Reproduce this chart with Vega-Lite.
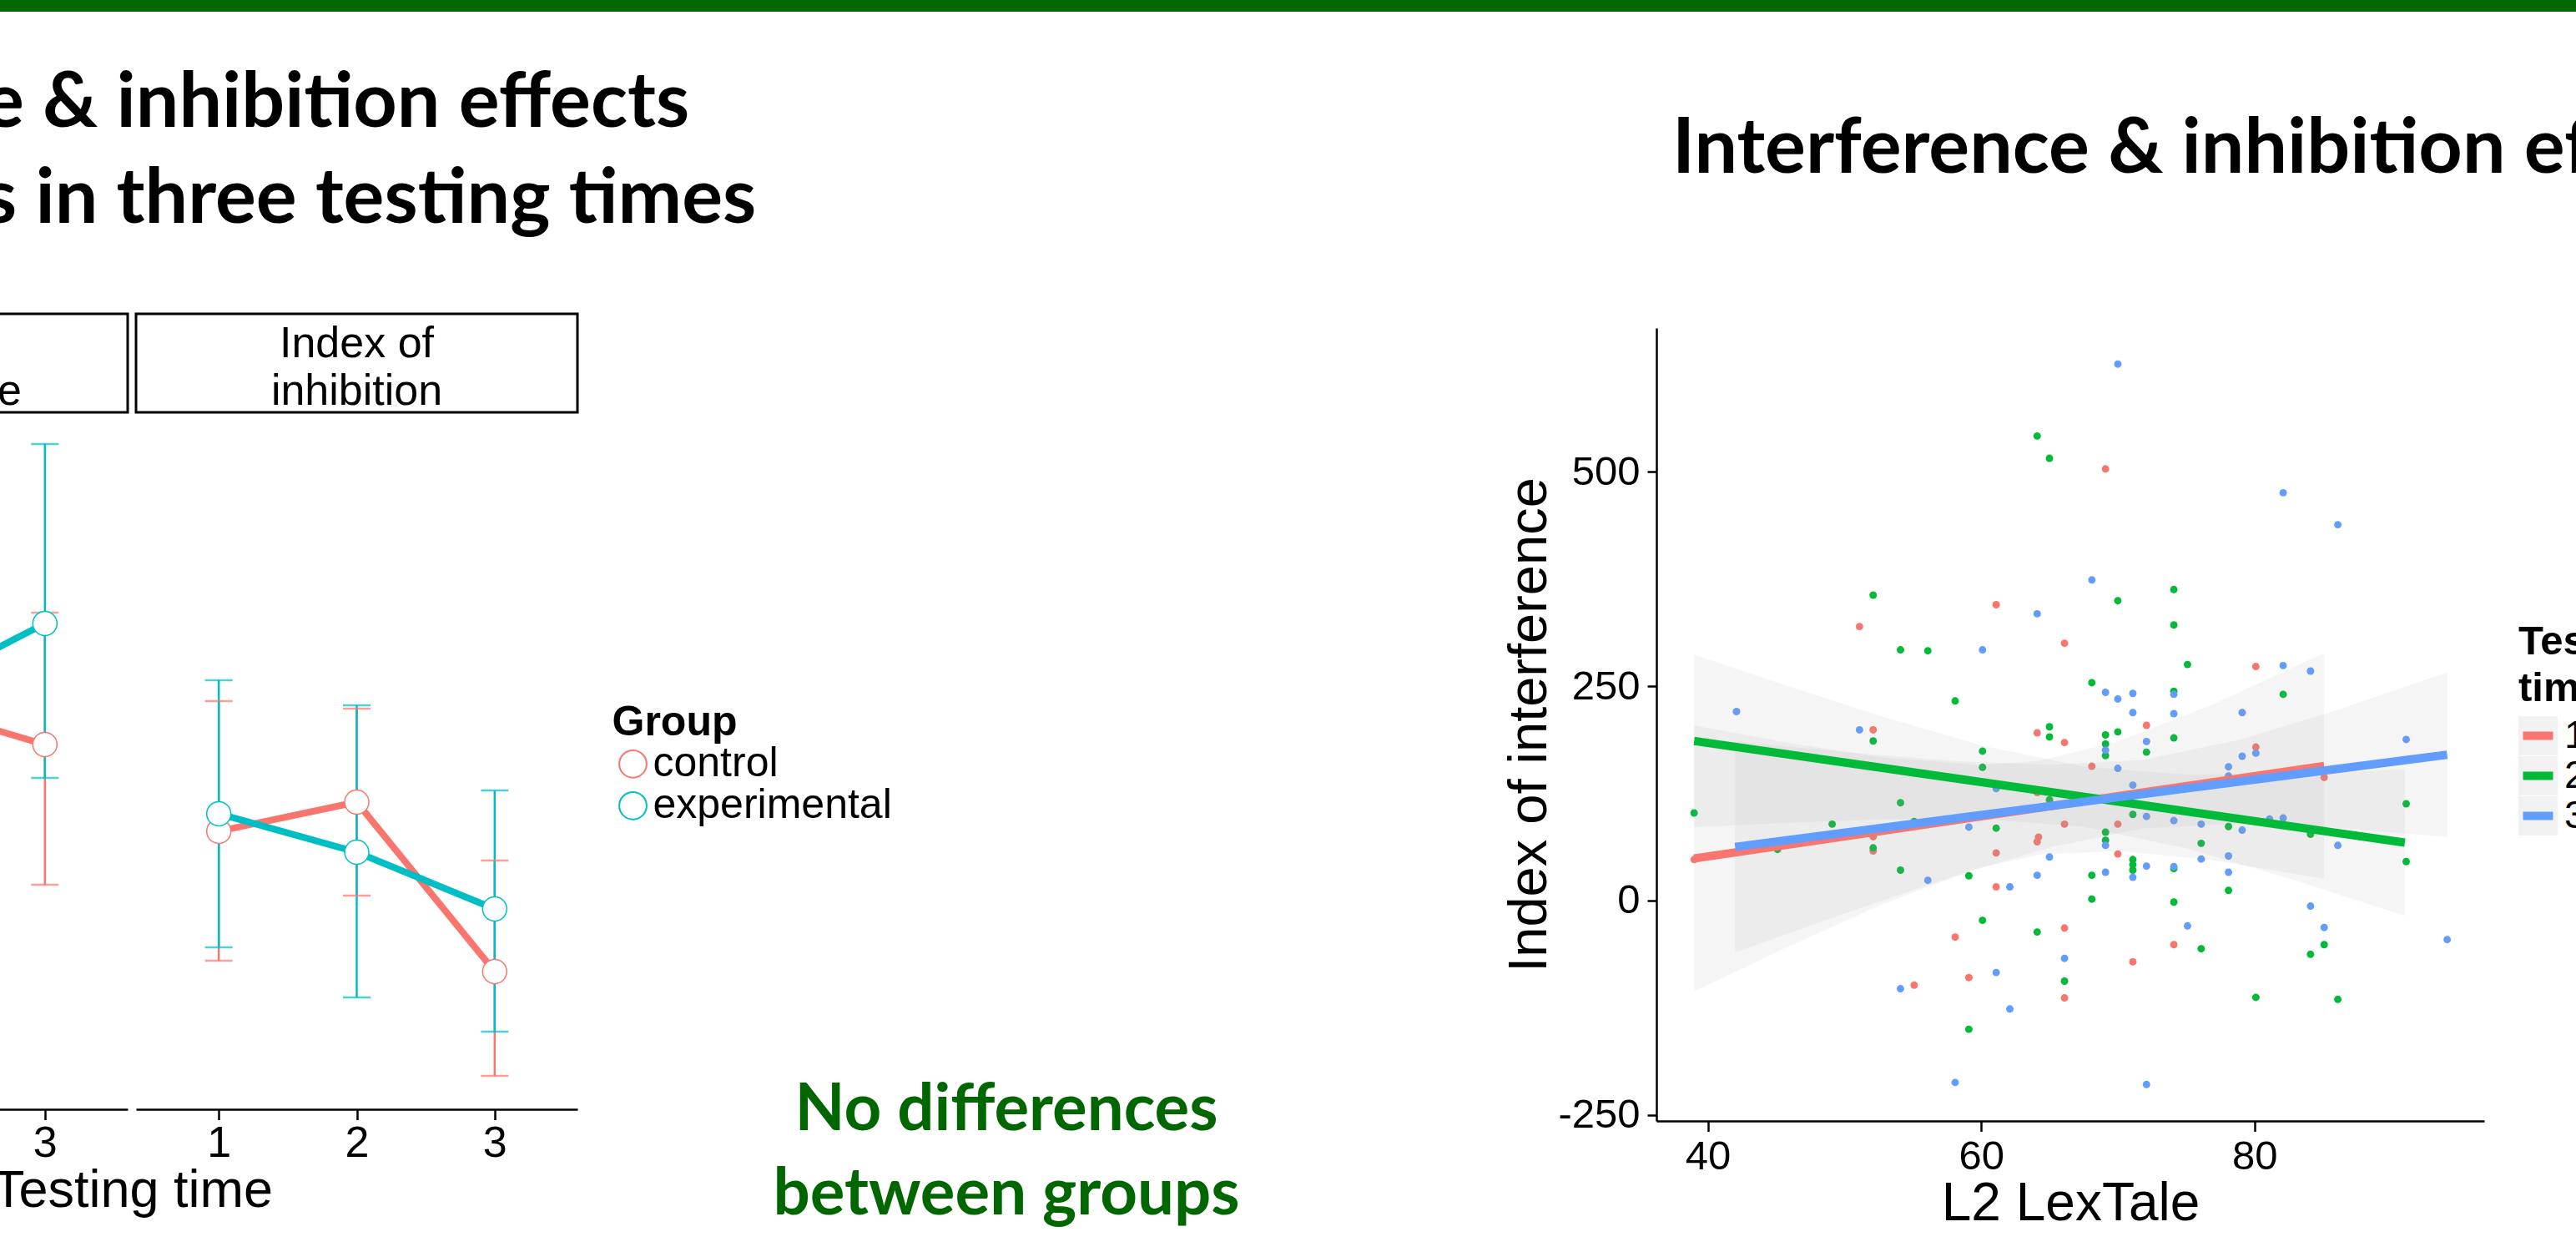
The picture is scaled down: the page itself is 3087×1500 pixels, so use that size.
{
  "$schema": "https://vega.github.io/schema/vega-lite/v6.json",
  "background": "white",
  "padding": {"left": -400, "right": -500, "top": 0, "bottom": 0},
  "autosize": {"type": "pad"},
  "config": {
    "view": {"stroke": null},
    "font": "Liberation Sans",
    "axis": {"labelFont": "Liberation Sans", "titleFont": "Liberation Sans", "labelColor": "black", "titleColor": "black", "domainColor": "black", "tickColor": "black", "grid": false, "titleFontWeight": "normal", "domainWidth": 2.5, "tickWidth": 2.5, "labelFlush": false, "labelOverlap": false},
    "legend": {"padding": 0, "titleLimit": 3000, "labelLimit": 3000, "titleFont": "Liberation Sans", "labelFont": "Liberation Sans", "titleColor": "black", "labelColor": "black"},
    "title": {"font": "Lato", "fontWeight": "bold", "color": "black"}
  },
  "datasets": {
    "means": [
      {"panel": "interference", "time": 2, "group": "control", "mean": 107.4, "lo": -25, "hi": 240},
      {"panel": "interference", "time": 2, "group": "experimental", "mean": 116.7, "lo": -40, "hi": 275},
      {"panel": "interference", "time": 3, "group": "control", "mean": 66.3, "lo": -74.5, "hi": 198.8},
      {"panel": "interference", "time": 3, "group": "experimental", "mean": 187.9, "lo": 32.8, "hi": 368.1},
      {"panel": "inhibition", "time": 1, "group": "control", "mean": -20.8, "lo": -150.8, "hi": 109.9},
      {"panel": "inhibition", "time": 1, "group": "experimental", "mean": -3.2, "lo": -137.4, "hi": 130.9},
      {"panel": "inhibition", "time": 2, "group": "control", "mean": 8.5, "lo": -85.4, "hi": 102.4},
      {"panel": "inhibition", "time": 2, "group": "experimental", "mean": -41.8, "lo": -187.7, "hi": 105.7},
      {"panel": "inhibition", "time": 3, "group": "control", "mean": -161.7, "lo": -266.5, "hi": -50.2},
      {"panel": "inhibition", "time": 3, "group": "experimental", "mean": -98.8, "lo": -222.0, "hi": 20.2}
    ],
    "scatter": [
      {"time": "1", "lex": 61.1, "idx": 344.9}, {"time": "1", "lex": 51.1, "idx": 319.5}, {"time": "1", "lex": 66.1, "idx": 300.0}, {"time": "1", "lex": 52.1, "idx": 199.0}, {"time": "1", "lex": 64.1, "idx": 195.5}, {"time": "1", "lex": 66.1, "idx": 184.2}, {"time": "1", "lex": 64.1, "idx": 125.8}, {"time": "1", "lex": 66.1, "idx": 89.1}, {"time": "1", "lex": 52.1, "idx": 74.4}, {"time": "1", "lex": 64.1, "idx": 68.5}, {"time": "1", "lex": 64.2, "idx": 74.0}, {"time": "1", "lex": 52.1, "idx": 57.8}, {"time": "1", "lex": 61.1, "idx": 55.5}, {"time": "1", "lex": 39.0, "idx": 47.8}, {"time": "1", "lex": 61.1, "idx": 15.9}, {"time": "1", "lex": 66.1, "idx": -32.0}, {"time": "1", "lex": 58.1, "idx": -42.6}, {"time": "1", "lex": 59.1, "idx": -89.8}, {"time": "1", "lex": 66.1, "idx": -113.5}, {"time": "1", "lex": 55.1, "idx": -98.7}, {"time": "1", "lex": 69.1, "idx": 503.2}, {"time": "1", "lex": 80.1, "idx": 272.8}, {"time": "1", "lex": 72.1, "idx": 204.3}, {"time": "1", "lex": 68.1, "idx": 156.5}, {"time": "1", "lex": 80.1, "idx": 178.9}, {"time": "1", "lex": 85.1, "idx": 143.5}, {"time": "1", "lex": 70.0, "idx": 89.1}, {"time": "1", "lex": 70.0, "idx": 54.3}, {"time": "1", "lex": 74.1, "idx": -51.4}, {"time": "1", "lex": 71.1, "idx": -71.5},
      {"time": "2", "lex": 64.1, "idx": 541.6}, {"time": "2", "lex": 65.0, "idx": 515.6}, {"time": "2", "lex": 52.1, "idx": 356.1}, {"time": "2", "lex": 54.1, "idx": 292.3}, {"time": "2", "lex": 56.1, "idx": 291.2}, {"time": "2", "lex": 58.1, "idx": 232.7}, {"time": "2", "lex": 52.1, "idx": 186.0}, {"time": "2", "lex": 65.0, "idx": 202.6}, {"time": "2", "lex": 65.0, "idx": 190.7}, {"time": "2", "lex": 60.1, "idx": 174.2}, {"time": "2", "lex": 60.1, "idx": 155.3}, {"time": "2", "lex": 65.0, "idx": 117.5}, {"time": "2", "lex": 39.0, "idx": 102.1}, {"time": "2", "lex": 54.1, "idx": 114.0}, {"time": "2", "lex": 49.1, "idx": 89.1}, {"time": "2", "lex": 55.1, "idx": 92.1}, {"time": "2", "lex": 61.1, "idx": 84.4}, {"time": "2", "lex": 45.1, "idx": 59.6}, {"time": "2", "lex": 52.1, "idx": 61.4}, {"time": "2", "lex": 54.1, "idx": 35.4}, {"time": "2", "lex": 59.1, "idx": 28.9}, {"time": "2", "lex": 60.1, "idx": -23.1}, {"time": "2", "lex": 64.1, "idx": -36.7}, {"time": "2", "lex": 66.1, "idx": -94.0}, {"time": "2", "lex": 59.1, "idx": -150.1}, {"time": "2", "lex": 70.0, "idx": 349.6}, {"time": "2", "lex": 74.1, "idx": 362.6}, {"time": "2", "lex": 74.1, "idx": 321.3}, {"time": "2", "lex": 75.1, "idx": 275.2}, {"time": "2", "lex": 68.1, "idx": 254.0}, {"time": "2", "lex": 74.1, "idx": 243.9}, {"time": "2", "lex": 82.1, "idx": 240.4}, {"time": "2", "lex": 69.1, "idx": 193.1}, {"time": "2", "lex": 70.0, "idx": 196.6}, {"time": "2", "lex": 69.1, "idx": 182.5}, {"time": "2", "lex": 69.1, "idx": 168.9}, {"time": "2", "lex": 72.1, "idx": 173.0}, {"time": "2", "lex": 74.1, "idx": 189.6}, {"time": "2", "lex": 91.1, "idx": 112.8}, {"time": "2", "lex": 91.1, "idx": 45.4}, {"time": "2", "lex": 71.1, "idx": 100.4}, {"time": "2", "lex": 78.1, "idx": 86.2}, {"time": "2", "lex": 84.1, "idx": 77.3}, {"time": "2", "lex": 69.1, "idx": 79.7}, {"time": "2", "lex": 69.1, "idx": 70.2}, {"time": "2", "lex": 71.1, "idx": 47.8}, {"time": "2", "lex": 71.1, "idx": 41.9}, {"time": "2", "lex": 71.1, "idx": 35.4}, {"time": "2", "lex": 74.1, "idx": 37.2}, {"time": "2", "lex": 76.1, "idx": 66.7}, {"time": "2", "lex": 68.1, "idx": 29.5}, {"time": "2", "lex": 68.1, "idx": 1.7}, {"time": "2", "lex": 74.1, "idx": -1.8}, {"time": "2", "lex": 78.1, "idx": 11.8}, {"time": "2", "lex": 85.1, "idx": -51.4}, {"time": "2", "lex": 84.1, "idx": -62.7}, {"time": "2", "lex": 76.1, "idx": -56.2}, {"time": "2", "lex": 80.1, "idx": -112.9}, {"time": "2", "lex": 86.1, "idx": -115.2},
      {"time": "3", "lex": 64.1, "idx": 334.3}, {"time": "3", "lex": 60.1, "idx": 292.3}, {"time": "3", "lex": 42.1, "idx": 220.3}, {"time": "3", "lex": 51.1, "idx": 199.0}, {"time": "3", "lex": 61.1, "idx": 130.5}, {"time": "3", "lex": 59.1, "idx": 85.6}, {"time": "3", "lex": 65.0, "idx": 50.7}, {"time": "3", "lex": 56.1, "idx": 23.6}, {"time": "3", "lex": 64.1, "idx": 29.5}, {"time": "3", "lex": 62.1, "idx": 15.9}, {"time": "3", "lex": 66.1, "idx": -67.4}, {"time": "3", "lex": 61.1, "idx": -83.9}, {"time": "3", "lex": 54.1, "idx": -102.8}, {"time": "3", "lex": 62.1, "idx": -126.4}, {"time": "3", "lex": 58.1, "idx": -212.1}, {"time": "3", "lex": 70.0, "idx": 625.5}, {"time": "3", "lex": 82.1, "idx": 475.4}, {"time": "3", "lex": 86.1, "idx": 438.2}, {"time": "3", "lex": 68.1, "idx": 373.8}, {"time": "3", "lex": 82.1, "idx": 274.0}, {"time": "3", "lex": 84.1, "idx": 267.5}, {"time": "3", "lex": 69.1, "idx": 242.7}, {"time": "3", "lex": 70.0, "idx": 235.0}, {"time": "3", "lex": 71.1, "idx": 241.5}, {"time": "3", "lex": 74.1, "idx": 240.4}, {"time": "3", "lex": 71.1, "idx": 219.1}, {"time": "3", "lex": 74.1, "idx": 217.9}, {"time": "3", "lex": 79.1, "idx": 219.1}, {"time": "3", "lex": 69.1, "idx": 175.4}, {"time": "3", "lex": 72.1, "idx": 185.4}, {"time": "3", "lex": 70.0, "idx": 154.1}, {"time": "3", "lex": 71.1, "idx": 134.6}, {"time": "3", "lex": 78.1, "idx": 155.9}, {"time": "3", "lex": 78.1, "idx": 145.3}, {"time": "3", "lex": 79.1, "idx": 168.3}, {"time": "3", "lex": 80.1, "idx": 171.8}, {"time": "3", "lex": 91.1, "idx": 187.8}, {"time": "3", "lex": 94.1, "idx": -45.5}, {"time": "3", "lex": 72.1, "idx": 98.0}, {"time": "3", "lex": 74.1, "idx": 93.3}, {"time": "3", "lex": 76.1, "idx": 89.1}, {"time": "3", "lex": 79.1, "idx": 82.1}, {"time": "3", "lex": 81.1, "idx": 95.0}, {"time": "3", "lex": 82.1, "idx": 96.2}, {"time": "3", "lex": 86.1, "idx": 64.3}, {"time": "3", "lex": 69.1, "idx": 64.3}, {"time": "3", "lex": 71.1, "idx": 27.1}, {"time": "3", "lex": 72.1, "idx": 40.1}, {"time": "3", "lex": 74.1, "idx": 39.5}, {"time": "3", "lex": 76.1, "idx": 48.4}, {"time": "3", "lex": 78.1, "idx": 52.0}, {"time": "3", "lex": 78.1, "idx": 33.0}, {"time": "3", "lex": 69.1, "idx": 33.0}, {"time": "3", "lex": 84.1, "idx": -6.5}, {"time": "3", "lex": 75.1, "idx": -29.6}, {"time": "3", "lex": 85.1, "idx": -31.4}, {"time": "3", "lex": 72.1, "idx": -214.5}
    ],
    "bands": [
      {"time": "1", "lex": 39.0, "lo": -106, "hi": 204}, {"time": "1", "lex": 46, "lo": -52.8, "hi": 183.6}, {"time": "1", "lex": 53, "lo": -2.8, "hi": 166.4}, {"time": "1", "lex": 60, "lo": 38.5, "hi": 157.9}, {"time": "1", "lex": 64.3, "lo": 53.8, "hi": 162.8}, {"time": "1", "lex": 70, "lo": 57.9, "hi": 185.3}, {"time": "1", "lex": 77, "lo": 46.8, "hi": 229.2}, {"time": "1", "lex": 85.1, "lo": 25.5, "hi": 288.5},
      {"time": "2", "lex": 39.0, "lo": 85.5, "hi": 286.5}, {"time": "2", "lex": 46, "lo": 90.8, "hi": 249.2}, {"time": "2", "lex": 53, "lo": 94.8, "hi": 213.4}, {"time": "2", "lex": 60, "lo": 95.3, "hi": 180.9}, {"time": "2", "lex": 67.5, "lo": 86, "hi": 156}, {"time": "2", "lex": 75, "lo": 61, "hi": 146.8}, {"time": "2", "lex": 83, "lo": 23.5, "hi": 147.9}, {"time": "2", "lex": 91.0, "lo": -17.9, "hi": 152.9},
      {"time": "3", "lex": 42.0, "lo": -60.4, "hi": 185.6}, {"time": "3", "lex": 50, "lo": -15.2, "hi": 173.2}, {"time": "3", "lex": 58, "lo": 28.4, "hi": 162.6}, {"time": "3", "lex": 65, "lo": 62, "hi": 158}, {"time": "3", "lex": 71.8, "lo": 84, "hi": 164}, {"time": "3", "lex": 79, "lo": 89.9, "hi": 187.7}, {"time": "3", "lex": 86, "lo": 84.8, "hi": 221.8}, {"time": "3", "lex": 94.1, "lo": 74, "hi": 266}
    ],
    "fits": [
      {"time": "1", "lex": 39.0, "idx": 49}, {"time": "1", "lex": 85.1, "idx": 157},
      {"time": "2", "lex": 39.0, "idx": 186}, {"time": "2", "lex": 91.0, "idx": 67.5},
      {"time": "3", "lex": 42.0, "idx": 62.6}, {"time": "3", "lex": 94.1, "idx": 170}
    ]
  },
  "vconcat": [
    {
      "width": 3987, "height": 14,
      "view": {"fill": "#006600", "stroke": null},
      "data": {"values": [{}]},
      "mark": {"type": "point", "opacity": 0},
      "title": {"text": ["e & inhibition effects", "s in three testing times"], "orient": "bottom", "anchor": "start", "frame": "group", "dx": 380, "offset": 138, "baseline": "alphabetic", "fontSize": 91.5, "lineHeight": 115, "font": "Lato", "fontWeight": "bold", "color": "black"}
    },
    {
      "hconcat": [
        {"width": 24, "height": 1, "data": {"values": [{}]}, "mark": {"type": "point", "opacity": 0}},
        {
          "vconcat": [
            {"width": 529, "height": 118, "view": {"stroke": "black", "strokeWidth": 3, "fill": "white"}, "data": {"values": [{"panel": "Index of\ninterference"}]}, "mark": {"type": "text", "lineBreak": "\n", "fontSize": 52, "lineHeight": 57, "font": "Liberation Sans", "color": "black", "dy": -22.6, "baseline": "middle", "align": "center"}, "encoding": {"text": {"field": "panel"}}},
            {
              "width": 529, "height": 835,
              "data": {"name": "means"},
              "transform": [{"filter": "datum.panel === 'interference'"}],
              "encoding": {
                "x": {"field": "time", "type": "quantitative", "scale": {"domain": [0.4, 3.6], "nice": false, "zero": false}, "axis": {"values": [1, 2, 3], "format": "d", "title": null, "labelFontSize": 52, "tickSize": 12.5, "labelPadding": 3}},
                "xOffset": {"field": "group", "type": "nominal", "scale": {"type": "point", "domain": ["control", "experimental"], "range": [-16.5, 16.5], "padding": 0}},
                "color": {"field": "group", "type": "nominal", "scale": {"range": ["#F8766D", "#00BFC4"]}, "legend": null}
              },
              "layer": [
                {"mark": {"type": "rule", "strokeWidth": 2.5}, "encoding": {"y": {"field": "lo", "type": "quantitative", "scale": {"domain": [-300, 400], "nice": false, "zero": false}, "axis": null}, "y2": {"field": "hi"}}},
                {"mark": {"type": "tick", "orient": "horizontal", "size": 33, "thickness": 2.5}, "encoding": {"y": {"field": "lo", "type": "quantitative", "axis": null}}},
                {"mark": {"type": "tick", "orient": "horizontal", "size": 33, "thickness": 2.5}, "encoding": {"y": {"field": "hi", "type": "quantitative", "axis": null}}},
                {"mark": {"type": "line", "strokeWidth": 8}, "encoding": {"y": {"field": "mean", "type": "quantitative", "axis": null}}},
                {"mark": {"type": "point", "filled": false, "fill": "white", "size": 840, "strokeWidth": 1.5, "opacity": 1}, "encoding": {"y": {"field": "mean", "type": "quantitative", "axis": null}}}
              ]
            }
          ],
          "spacing": 0, "bounds": "flush",
          "resolve": {"scale": {"color": "independent", "stroke": "independent"}, "legend": {"color": "independent", "stroke": "independent"}}
        },
        {"width": 538.5, "height": 1, "data": {"values": [{}]}, "mark": {"type": "point", "opacity": 0}},
        {
          "vconcat": [
            {"width": 529, "height": 118, "view": {"stroke": "black", "strokeWidth": 3, "fill": "white"}, "data": {"values": [{"panel": "Index of\ninhibition"}]}, "mark": {"type": "text", "lineBreak": "\n", "fontSize": 52, "lineHeight": 57, "font": "Liberation Sans", "color": "black", "dy": -22.6, "baseline": "middle", "align": "center"}, "encoding": {"text": {"field": "panel"}}},
            {
              "width": 529, "height": 835,
              "data": {"name": "means"},
              "transform": [{"filter": "datum.panel === 'inhibition'"}],
              "encoding": {
                "x": {"field": "time", "type": "quantitative", "scale": {"domain": [0.4, 3.6], "nice": false, "zero": false}, "axis": {"values": [1, 2, 3], "format": "d", "title": "Testing time", "titleFontSize": 63, "titleX": -4.5, "titleY": 116, "titleAlign": "center", "titleBaseline": "alphabetic", "labelFontSize": 52, "tickSize": 12.5, "labelPadding": 3}},
                "xOffset": {"field": "group", "type": "nominal", "scale": {"type": "point", "domain": ["control", "experimental"], "range": [-16.5, 16.5], "padding": 0}}
              },
              "layer": [
                {"mark": {"type": "rule", "strokeWidth": 2.5}, "encoding": {"y": {"field": "lo", "type": "quantitative", "scale": {"domain": [-300, 400], "nice": false, "zero": false}, "axis": null}, "y2": {"field": "hi"}, "color": {"field": "group", "type": "nominal", "scale": {"range": ["#F8766D", "#00BFC4"]}, "legend": null}}},
                {"mark": {"type": "tick", "orient": "horizontal", "size": 33, "thickness": 2.5}, "encoding": {"y": {"field": "lo", "type": "quantitative", "axis": null}, "color": {"field": "group", "type": "nominal", "legend": null}}},
                {"mark": {"type": "tick", "orient": "horizontal", "size": 33, "thickness": 2.5}, "encoding": {"y": {"field": "hi", "type": "quantitative", "axis": null}, "color": {"field": "group", "type": "nominal", "legend": null}}},
                {"mark": {"type": "line", "strokeWidth": 8}, "encoding": {"y": {"field": "mean", "type": "quantitative", "axis": null}, "color": {"field": "group", "type": "nominal", "legend": null}}},
                {"mark": {"type": "point", "filled": false, "fill": "white", "size": 840, "strokeWidth": 1.5, "opacity": 1}, "encoding": {"y": {"field": "mean", "type": "quantitative", "axis": null}, "stroke": {"field": "group", "type": "nominal", "scale": {"domain": ["control", "experimental"], "range": ["#F8766D", "#00BFC4"]}, "legend": {"title": "Group", "orient": "none", "legendX": 570.5, "legendY": 347.3, "titleFontSize": 50, "titleFontWeight": "bold", "labelFontSize": 50, "symbolType": "circle", "symbolSize": 1075, "symbolStrokeWidth": 2, "symbolFillColor": "white", "titlePadding": -1, "rowPadding": -3, "labelOffset": -1}}}}
              ]
            }
          ],
          "spacing": 0, "bounds": "flush",
          "resolve": {"scale": {"color": "independent", "stroke": "independent"}, "legend": {"color": "independent", "stroke": "independent"}}
        },
        {"width": 742.5, "height": 1, "data": {"values": [{}]}, "mark": {"type": "point", "opacity": 0}},
        {
          "width": 600, "height": 1, "data": {"values": [{}]}, "mark": {"type": "point", "opacity": 0},
          "title": {"text": ["No differences", "between groups"], "orient": "bottom", "anchor": "middle", "frame": "group", "offset": 975, "baseline": "alphabetic", "fontSize": 78, "lineHeight": 101, "font": "Lato", "fontWeight": "bold", "color": "#006600"}
        },
        {"width": 479, "height": 1, "data": {"values": [{}]}, "mark": {"type": "point", "opacity": 0}},
        {
          "vconcat": [
            {"width": 992, "height": 16.5, "data": {"values": [{}]}, "mark": {"type": "point", "opacity": 0}},
            {
              "width": 992, "height": 950,
              "title": {"text": "Interference & inhibition effects", "orient": "top", "anchor": "start", "frame": "group", "dx": 19, "offset": 94.5, "baseline": "alphabetic", "fontSize": 91.5, "font": "Lato", "fontWeight": "bold", "color": "black"},
              "encoding": {
                "x": {"field": "lex", "type": "quantitative", "scale": {"domain": [36.24, 96.81], "nice": false, "zero": false}, "axis": {"values": [40, 60, 80], "title": "L2 LexTale", "titleFontSize": 64, "titleY": 118.5, "titleBaseline": "alphabetic", "labelFontSize": 49, "tickSize": 12.5, "labelPadding": 6}}
              },
              "layer": [
                {"data": {"name": "scatter"}, "mark": {"type": "circle", "size": 80, "opacity": 1}, "encoding": {"y": {"field": "idx", "type": "quantitative", "scale": {"domain": [-257, 667.5], "nice": false, "zero": false}, "axis": {"values": [-250, 0, 250, 500], "labelExpr": "'' + datum.value", "title": "Index of interference", "titleFontSize": 65, "titleX": -133, "titleY": 475, "titleAlign": "center", "titleBaseline": "alphabetic", "labelFontSize": 49, "tickSize": 11, "labelPadding": 9}}, "color": {"field": "time", "type": "nominal", "scale": {"range": ["#F8766D", "#00BA38", "#619CFF"]}, "legend": null}}},
                {"data": {"name": "bands"}, "mark": {"type": "area", "orient": "vertical", "opacity": 0.1}, "encoding": {"y": {"field": "lo", "type": "quantitative", "axis": {"values": [-250, 0, 250, 500], "labelExpr": "'' + datum.value", "title": "Index of interference", "titleFontSize": 65, "titleX": -133, "titleY": 475, "titleAlign": "center", "titleBaseline": "alphabetic", "labelFontSize": 49, "tickSize": 11, "labelPadding": 9}}, "y2": {"field": "hi"}, "fill": {"field": "time", "type": "nominal", "scale": {"range": ["#999999", "#999999", "#999999"]}, "legend": {"title": ["Testing", "time"], "titleOpacity": 0, "labelOpacity": 0, "orient": "none", "legendX": 1033, "legendY": 352, "titleFontSize": 49, "titleFontWeight": "bold", "titleLineHeight": 56, "labelFontSize": 47, "symbolType": "square", "symbolSize": 2209, "symbolStrokeWidth": 0, "symbolOpacity": 0.13, "titlePadding": 8, "rowPadding": 0, "labelOffset": 8}}}},
                {"data": {"name": "fits"}, "mark": {"type": "line", "strokeWidth": 10, "strokeCap": "butt"}, "encoding": {"y": {"field": "idx", "type": "quantitative", "axis": {"values": [-250, 0, 250, 500], "labelExpr": "'' + datum.value", "title": "Index of interference", "titleFontSize": 65, "titleX": -133, "titleY": 475, "titleAlign": "center", "titleBaseline": "alphabetic", "labelFontSize": 49, "tickSize": 11, "labelPadding": 9}}, "stroke": {"field": "time", "type": "nominal", "scale": {"domain": ["1", "2", "3"], "range": ["#F8766D", "#00BA38", "#619CFF"]}, "legend": {"title": ["Testing", "time"], "orient": "none", "legendX": 1033, "legendY": 352, "titleFontSize": 49, "titleFontWeight": "bold", "titleLineHeight": 56, "labelFontSize": 47, "symbolType": "stroke", "symbolSize": 1296, "symbolStrokeWidth": 10, "titlePadding": 8, "rowPadding": 0, "labelOffset": 8}}}}
              ]
            }
          ],
          "spacing": 0, "bounds": "flush",
          "resolve": {"scale": {"color": "independent", "stroke": "independent", "fill": "independent"}, "legend": {"color": "independent", "stroke": "independent", "fill": "independent"}}
        }
      ],
      "spacing": 0,
      "bounds": "flush",
      "resolve": {"scale": {"color": "independent", "stroke": "independent", "fill": "independent"}, "legend": {"color": "independent", "stroke": "independent", "fill": "independent"}}
    }
  ],
  "spacing": 362,
  "bounds": "flush"
}
